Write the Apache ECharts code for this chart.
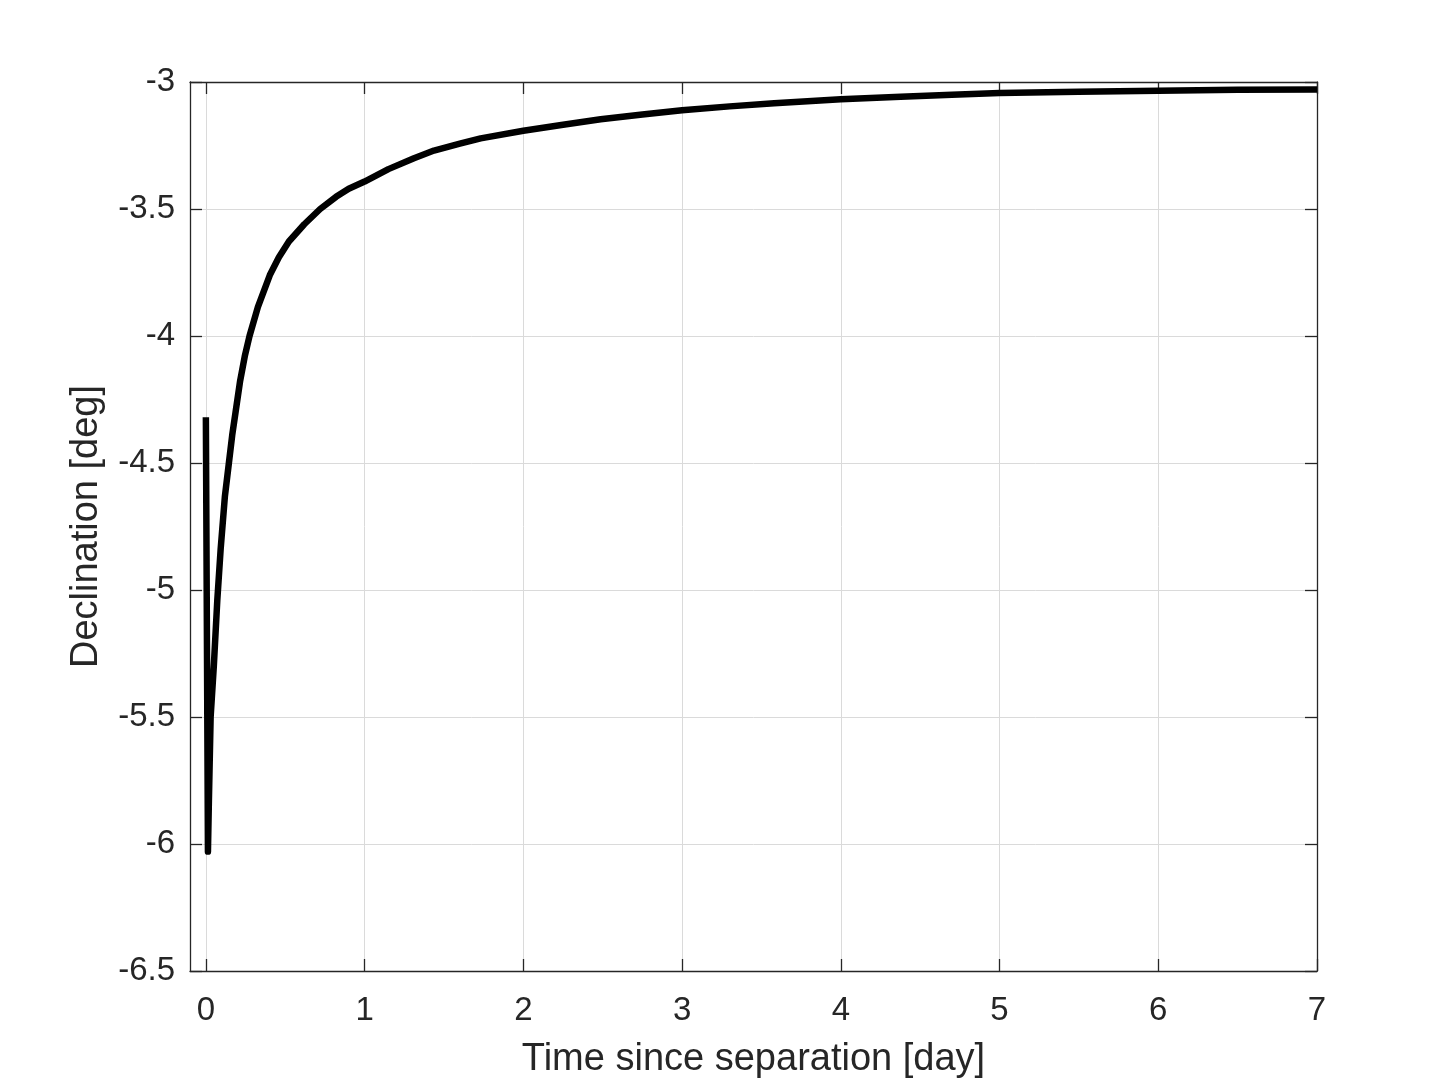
<!DOCTYPE html>
<html>
<head>
<meta charset="utf-8">
<title>Declination vs time since separation</title>
<script src="https://cdn.jsdelivr.net/npm/echarts@6/dist/echarts.min.js"></script>
<style>
  html, body { margin: 0; padding: 0; background: #fff; }
  #chart { width: 1456px; height: 1092px; }
</style>
</head>
<body>
<div id="chart"></div>
<script>
// values
const timeDays = [
  0, 0.013, 0.019, 0.03, 0.05, 0.072, 0.093, 0.12, 0.145, 0.166, 0.187, 0.215,
  0.245, 0.275, 0.328, 0.403, 0.46, 0.523, 0.62, 0.72, 0.82, 0.9,
  1.0, 1.15, 1.311, 1.437, 1.6, 1.731, 2.0, 2.25, 2.487, 2.75, 3.0, 3.3, 3.58,
  4.0, 4.377, 4.7, 5.0, 5.5, 6.0, 6.5, 7.0
]
const declinationDeg = [
  -4.32, -6.03, -5.83, -5.5, -5.3, -5.04, -4.84, -4.63, -4.5, -4.39, -4.3, -4.18,
  -4.08, -4.0, -3.885, -3.76, -3.69, -3.628, -3.56, -3.5, -3.452, -3.42,
  -3.392, -3.343, -3.30, -3.27, -3.243, -3.222, -3.192, -3.168, -3.147, -3.128, -3.111, -3.096, -3.084,
  -3.068, -3.058, -3.05, -3.043, -3.038, -3.034, -3.031, -3.03
]
const xTicks = [0, 1, 2, 3, 4, 5, 6, 7]

const fontFamily = '"Liberation Sans", Arial, Helvetica, sans-serif'
const axisColor = '#262626'

const chart = echarts.init(document.getElementById('chart'), null, { renderer: 'canvas' })

const baseX = {
  type: 'value',
  min: -0.1,
  max: 7,
  axisLine: { show: true, onZero: false, lineStyle: { color: axisColor, width: 1.3 } },
  axisTick: { show: true, inside: true, length: 12, customValues: xTicks, lineStyle: { color: axisColor, width: 1.3 } },
  splitLine: { show: false }
}
const baseY = {
  type: 'value',
  min: -6.5,
  max: -3,
  interval: 0.5,
  axisLine: { show: true, onZero: false, lineStyle: { color: axisColor, width: 1.3 } },
  axisTick: { show: true, inside: true, length: 12, lineStyle: { color: axisColor, width: 1.3 } },
  splitLine: { show: false }
}

const option = {
  backgroundColor: '#ffffff',
  animation: false,
  grid: { left: 190, right: 139, top: 82, bottom: 121, containLabel: false },
  xAxis: [
    Object.assign({}, baseX, {
      position: 'bottom',
      name: 'Time since separation [day]',
      nameLocation: 'middle',
      nameGap: 70,
      nameTextStyle: { fontFamily, fontSize: 38, color: axisColor },
      axisLabel: { show: true, customValues: xTicks, margin: 23, fontFamily, fontSize: 33, color: axisColor },
      splitLine: { show: true, lineStyle: { color: '#dadada', width: 1 } }
    }),
    Object.assign({}, baseX, {
      position: 'top',
      axisLabel: { show: false }
    })
  ],
  yAxis: [
    Object.assign({}, baseY, {
      position: 'left',
      name: 'Declination [deg]',
      nameLocation: 'middle',
      nameGap: 84,
      nameTextStyle: { fontFamily, fontSize: 38, color: axisColor },
      axisLabel: { show: true, margin: 15, padding: [8, 0, 0, 0], fontFamily, fontSize: 33, color: axisColor },
      splitLine: { show: true, lineStyle: { color: '#dadada', width: 1 } }
    }),
    Object.assign({}, baseY, {
      position: 'right',
      axisLabel: { show: false }
    })
  ],
  series: [
    {
      type: 'line',
      xAxisIndex: 0,
      yAxisIndex: 0,
      data: timeDays.map((t, i) => [t, declinationDeg[i]]),
      showSymbol: false,
      smooth: false,
      lineStyle: { color: '#000000', width: 6.5, cap: 'butt', join: 'round' },
      z: 3
    }
  ]
}

chart.setOption(option)
</script>
</body>
</html>
